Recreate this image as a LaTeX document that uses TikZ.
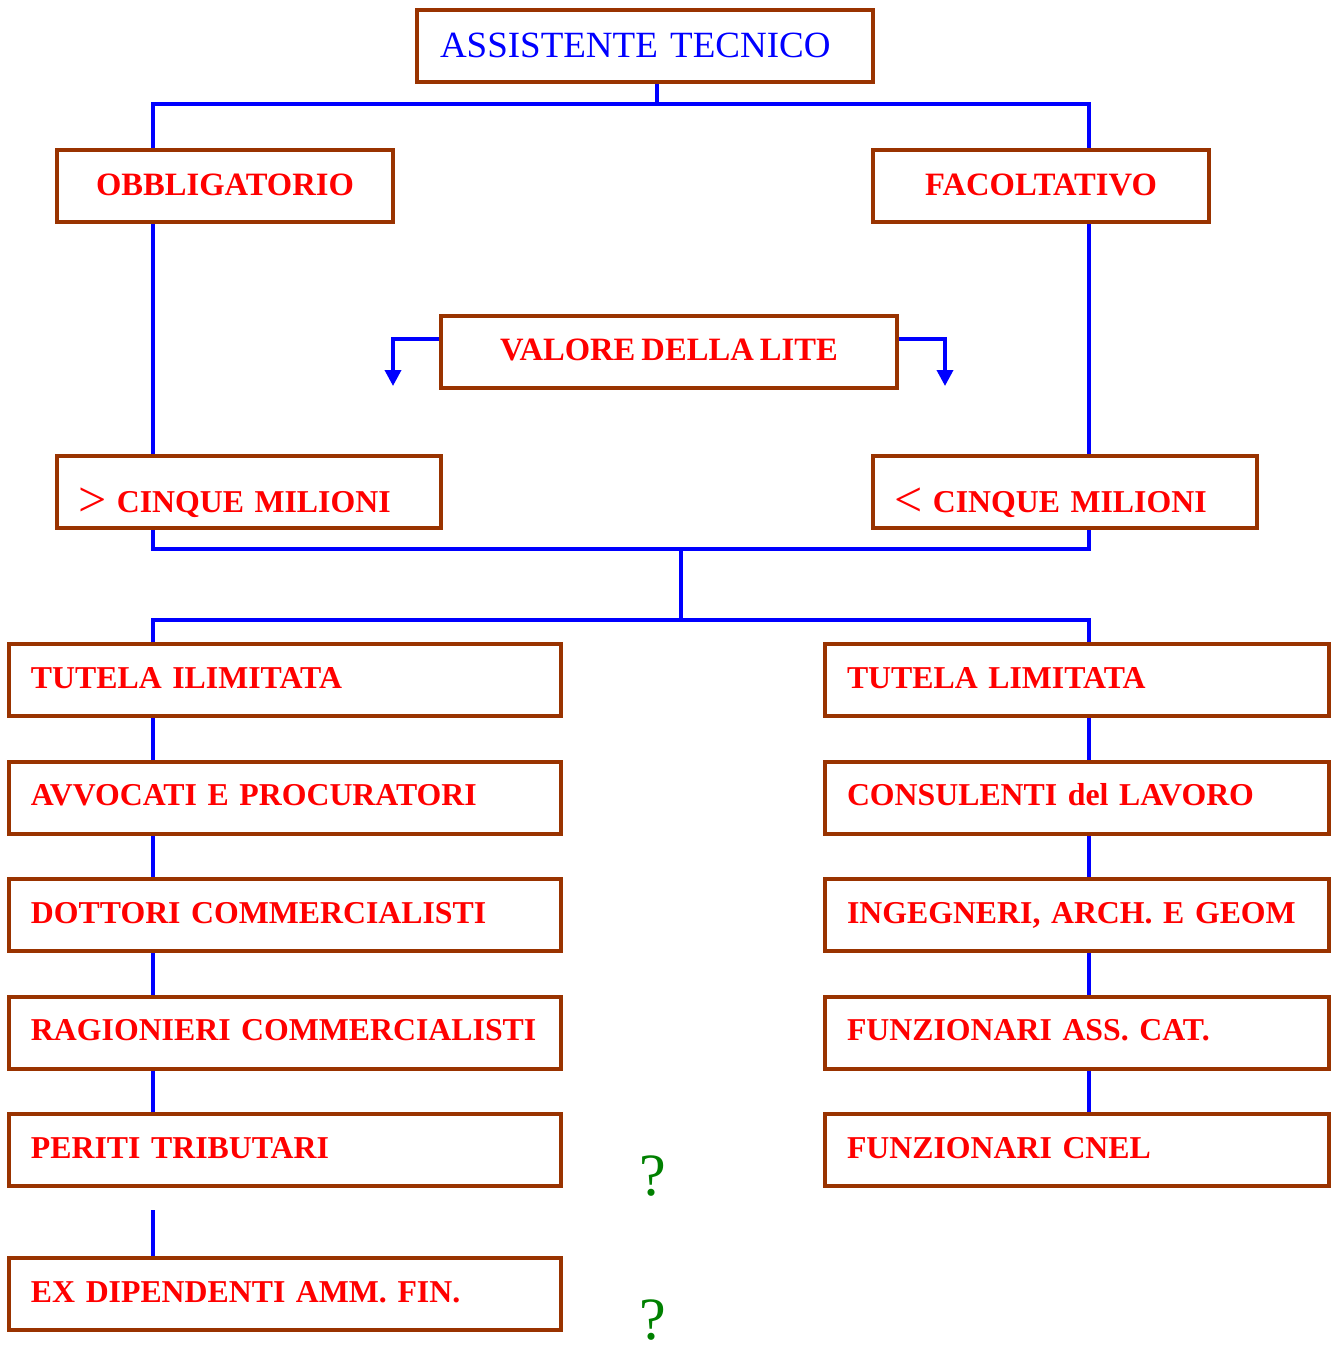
\documentclass[tikz,border=0pt]{standalone}
\usepackage{fontspec}
\setmainfont{Liberation Serif}[WordSpace=0.75]
\usetikzlibrary{positioning,arrows.meta}

\definecolor{boxbrown}{RGB}{153,51,0}
\definecolor{txtred}{RGB}{255,0,0}
\definecolor{wireblue}{RGB}{0,0,255}
\definecolor{qgreen}{RGB}{0,128,0}

\newcommand{\bigsign}[1]{\raisebox{-2pt}{\fontsize{25}{25}\selectfont\mdseries #1}}

\begin{document}
\begin{tikzpicture}[
  x=0.5pt, y=-0.5pt,
  node distance=20.75pt,
  box/.style={rectangle, draw=boxbrown, line width=2pt, minimum height=36pt, inner ysep=0pt,
              text height=8pt, text depth=0pt},
  lbox/.style={box, align=left, inner xsep=11pt, text width=#1,
               font=\fontsize{15.9}{18}\selectfont\bfseries, text=txtred},
  cbox/.style={box, align=center, minimum width=#1, text height=9pt,
               font=\fontsize{16.3}{18}\selectfont\bfseries, text=txtred},
  wire/.style={draw=wireblue, line width=1.8pt},
  arr/.style={wire, -{Triangle[width=8pt,length=8pt]}},
  qmark/.style={text=qgreen, font=\fontsize{30}{32}\selectfont},
]
  \useasboundingbox (0,0) rectangle (1337,1345);

  % Top
  \node[box, align=left, inner xsep=11.5pt, text width=205pt, text height=11pt, text=wireblue,
        font=\fontsize{18.5}{20}\selectfont] (ass) at (645,46) {ASSISTENTE TECNICO};
  \node[cbox=168pt] (obb) at (225,186) {OBBLIGATORIO};
  \node[cbox=168pt] (fac) at (1041,186) {FACOLTATIVO};

  % Value of the dispute
  \node[cbox=228pt] (val) at (669,351.5) {VALORE DELLA LITE};
  \node[lbox=171pt, inner xsep=10.5pt, text height=20pt] (gtm) at (249,492)
    {\bigsign{>} CINQUE MILIONI};
  \node[lbox=171pt, inner xsep=10.5pt, text height=20pt] (ltm) at (1065,492)
    {\bigsign{<} CINQUE MILIONI};

  % Left column
  \node[lbox=254pt] (l1) at (285,680) {TUTELA ILIMITATA};
  \node[lbox=254pt, below=of l1] (l2) {AVVOCATI E PROCURATORI};
  \node[lbox=254pt, below=of l2] (l3) {DOTTORI COMMERCIALISTI};
  \node[lbox=254pt, below=of l3] (l4) {RAGIONIERI COMMERCIALISTI};
  \node[lbox=254pt, below=of l4] (l5) {PERITI TRIBUTARI};
  \node[lbox=254pt, below=34pt of l5] (l6) {EX DIPENDENTI AMM. FIN.};

  % Right column
  \node[lbox=230pt] (r1) at (1077,680) {TUTELA LIMITATA};
  \node[lbox=230pt, below=of r1] (r2) {CONSULENTI del LAVORO};
  \node[lbox=230pt, below=of r2] (r3) {INGEGNERI, ARCH. E GEOM};
  \node[lbox=230pt, below=of r3] (r4) {FUNZIONARI ASS. CAT.};
  \node[lbox=230pt, below=of r4] (r5) {FUNZIONARI CNEL};

  % Question marks
  \node[qmark] (q1) at (653,1176) {?};
  \node[qmark] (q2) at (653,1320) {?};

  % Bus points
  \coordinate (lx) at (153,0);
  \coordinate (rx) at (1089,0);
  \coordinate (b1) at (657,104);
  \coordinate (b2) at (681,549);
  \coordinate (b3) at (681,620);
  \coordinate (vl) at (393,386);
  \coordinate (vr) at (945,386);
  \coordinate (gap) at (153,1210);

  % Connectors
  \draw[wire] (ass.south -| b1) -- (b1);
  \draw[wire] (obb.north -| lx) |- (b1) -| (fac.north -| rx);
  \draw[wire] (obb.south -| lx) -- (gtm.north -| lx);
  \draw[wire] (fac.south -| rx) -- (ltm.north -| rx);
  \draw[arr] ([yshift=6.25pt]val.west) -| (vl);
  \draw[arr] ([yshift=6.25pt]val.east) -| (vr);
  \draw[wire] (gtm.south -| lx) |- (b2) -| (ltm.south -| rx);
  \draw[wire] (b2) -- (b3);
  \draw[wire] (l1.north -| lx) |- (b3) -| (r1.north -| rx);
  \foreach \a/\b in {l1/l2, l2/l3, l3/l4, l4/l5}
    \draw[wire] (\a.south -| lx) -- (\b.north -| lx);
  \draw[wire] (gap) -- (l6.north -| lx);
  \foreach \a/\b in {r1/r2, r2/r3, r3/r4, r4/r5}
    \draw[wire] (\a.south -| rx) -- (\b.north -| rx);
\end{tikzpicture}
\end{document}
